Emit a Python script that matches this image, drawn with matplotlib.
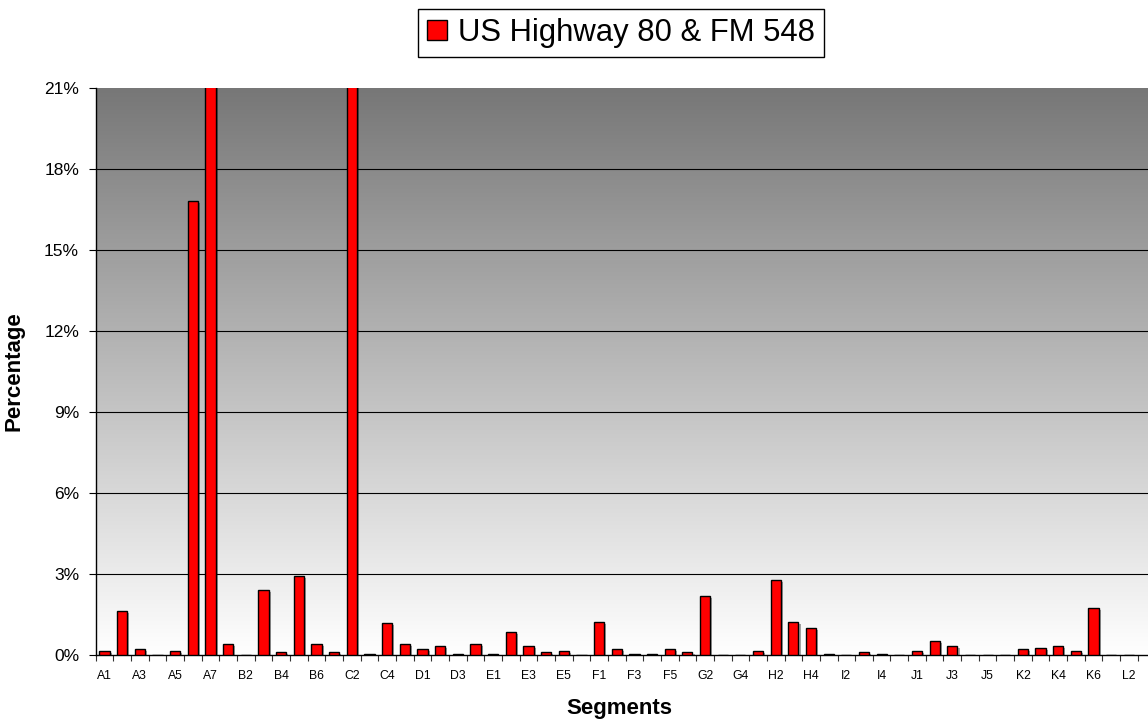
import matplotlib
matplotlib.use("Agg")
import matplotlib.pyplot as plt
import matplotlib.patheffects as pe
import numpy as np
from matplotlib.colors import LinearSegmentedColormap
from matplotlib.ticker import FixedLocator, FuncFormatter

plt.rcParams.update({
    "font.family": ["Liberation Sans", "DejaVu Sans"],
})

SEGMENTS = [
    "A1", "A2", "A3", "A4", "A5", "A6", "A7",
    "B1", "B2", "B3", "B4", "B5", "B6",
    "C1", "C2", "C3", "C4", "C5",
    "D1", "D2", "D3", "D4",
    "E1", "E2", "E3", "E4", "E5", "E6",
    "F1", "F2", "F3", "F4", "F5",
    "G1", "G2", "G3", "G4",
    "H1", "H2", "H3", "H4",
    "I1", "I2", "I3", "I4", "I5",
    "J1", "J2", "J3", "J4", "J5",
    "K1", "K2", "K3", "K4", "K5", "K6",
    "L1", "L2",
]

# percent of crashes per segment (A7 and C2 run off the top of the scale)
PERCENT = [
    0.16, 1.64, 0.21, 0.00, 0.16, 16.80, 24.00,
    0.42, 0.00, 2.40, 0.11, 2.93, 0.42,
    0.11, 26.00, 0.05, 1.17, 0.42,
    0.21, 0.32, 0.05, 0.42,
    0.05, 0.86, 0.32, 0.11, 0.16, 0.00,
    1.22, 0.21, 0.05, 0.05, 0.21,
    0.11, 2.19, 0.00, 0.00,
    0.16, 2.78, 1.22, 1.01,
    0.05, 0.00, 0.11, 0.05, 0.00,
    0.16, 0.53, 0.32, 0.00, 0.00,
    0.00, 0.21, 0.27, 0.32, 0.16, 1.75,
    0.00, 0.00,
]

Y_TICKS = [0, 3, 6, 9, 12, 15, 18, 21]
SERIES_NAME = "US Highway 80 & FM 548"

W, H = 1148, 721
fig = plt.figure(figsize=(W / 100, H / 100), dpi=100)
ax = fig.add_axes([95.7 / W, 1 - 655 / H, 1 - 95.7 / W, (655 - 88) / H])

x = np.arange(len(SEGMENTS))
xmax = len(SEGMENTS) - 0.5 + 0.58
ax.set_xlim(-0.5, xmax)
ax.set_ylim(0, 21)

# grey-to-white plot background
bg = LinearSegmentedColormap.from_list("bg", ["#ffffff", "#777777"])
grad = np.linspace(0, 1, 256).reshape(-1, 1)
ax.imshow(grad, cmap=bg, origin="lower", aspect="auto",
          extent=[-0.5, xmax, 0, 21], zorder=0, interpolation="bilinear")

for y in Y_TICKS[1:-1]:
    ax.axhline(y, color="black", lw=0.8, zorder=1)

bars = ax.bar(x, PERCENT, width=0.58, color="#ff0000", edgecolor="black",
              linewidth=1.0, zorder=3, label=SERIES_NAME)
for b in bars:
    b.set_path_effects([pe.SimplePatchShadow(offset=(1.5, -1.5), shadow_rgbFace="black", alpha=0.35),
                        pe.Normal()])

# category boundaries get tick marks, every other segment gets a label
ax.xaxis.set_major_locator(FixedLocator(np.arange(-0.5, len(SEGMENTS) + 0.5, 1)))
ax.xaxis.set_major_formatter(FuncFormatter(lambda v, p: ""))
ax.xaxis.set_minor_locator(FixedLocator(x[::2]))
ax.set_xticklabels(SEGMENTS[::2], minor=True, fontsize=8.8)
ax.tick_params(axis="x", which="major", direction="out", length=4, width=0.8, color="#333333")
ax.tick_params(axis="x", which="minor", length=0, pad=11)

ax.set_yticks(Y_TICKS)
ax.set_yticklabels([f"{t}%" for t in Y_TICKS], fontsize=12.5)
ax.tick_params(axis="y", direction="out", length=5, width=0.8, pad=7)

for s in ["top", "right"]:
    ax.spines[s].set_visible(False)
ax.spines["left"].set_linewidth(1.0)
ax.spines["bottom"].set_linewidth(1.0)

ax.set_xlabel("Segments", fontsize=16, fontweight="bold")
ax.xaxis.set_label_coords((619 - 95.7) / (W - 95.7), -0.075)
ax.set_ylabel("Percentage", fontsize=16, fontweight="bold")
ax.yaxis.set_label_coords(-0.068, 0.5)

leg = ax.legend(loc="center", bbox_to_anchor=(621 / W, 1 - 33 / H),
                bbox_transform=fig.transFigure, fontsize=22.3, frameon=True,
                fancybox=False, framealpha=1, edgecolor="black",
                handlelength=0.65, handleheight=0.65, handletextpad=0.35,
                borderpad=0.3, borderaxespad=0)
leg.get_frame().set_linewidth(1.0)
leg.legend_handles[0].set_path_effects([])

fig.savefig("out.png", dpi=100)
